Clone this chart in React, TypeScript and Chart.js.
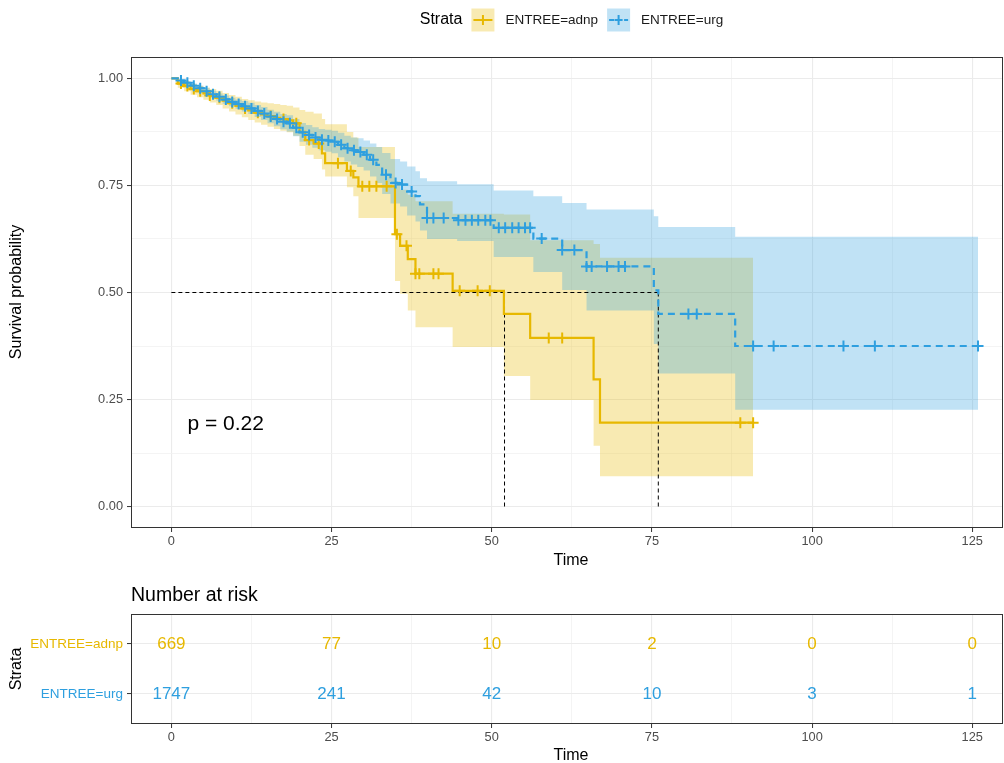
import React, { useEffect, useRef } from 'react';
import { Chart, registerables } from 'chart.js';

Chart.register(...registerables);

const FONT = '"Liberation Sans", Arial, Helvetica, sans-serif';
const YELLOW = '#E7B800';
const BLUE = '#2E9FDF';
const YELLOW_FILL = 'rgba(231,184,0,0.3)';
const BLUE_FILL = 'rgba(46,159,223,0.3)';

const strataNames = ['ENTREE=adnp', 'ENTREE=urg'];

// ---- ENTREE=adnp (yellow) ----
const adnpTime = [0, 1, 2, 3, 4, 5, 6, 7, 8, 9, 10, 11, 12, 13, 14, 15, 16, 17, 18, 19, 20, 20.9, 22.2, 23.5, 24, 27.4, 28.4, 29.2, 34.9, 35.7, 36.9, 38.1, 43.9, 51.9, 56, 65.9, 66.9, 90.8];
const adnpSurv = [1, 0.988, 0.982, 0.975, 0.97, 0.965, 0.96, 0.955, 0.948, 0.942, 0.936, 0.93, 0.925, 0.92, 0.916, 0.912, 0.908, 0.905, 0.902, 0.895, 0.875, 0.856, 0.848, 0.825, 0.802, 0.784, 0.769, 0.748, 0.636, 0.609, 0.578, 0.544, 0.504, 0.45, 0.394, 0.297, 0.196, 0.196];
const adnpLower = [1, 0.978, 0.97, 0.962, 0.956, 0.95, 0.944, 0.938, 0.93, 0.923, 0.916, 0.909, 0.903, 0.897, 0.892, 0.887, 0.882, 0.878, 0.874, 0.866, 0.842, 0.822, 0.812, 0.787, 0.771, 0.746, 0.725, 0.674, 0.527, 0.497, 0.458, 0.419, 0.373, 0.305, 0.249, 0.142, 0.071, 0.071];
const adnpUpper = [1, 0.996, 0.992, 0.987, 0.983, 0.979, 0.975, 0.971, 0.966, 0.961, 0.957, 0.952, 0.949, 0.946, 0.944, 0.942, 0.94, 0.938, 0.936, 0.932, 0.926, 0.922, 0.918, 0.905, 0.893, 0.875, 0.862, 0.84, 0.76, 0.74, 0.728, 0.713, 0.684, 0.682, 0.622, 0.613, 0.581, 0.581];
const adnpCensor = [1.5, 2.5, 3.5, 4.5, 6, 7.5, 9.5, 11.5, 13.5, 15.5, 17.5, 19.5, 21.5, 23, 26, 28, 29.8, 30.9, 32, 33.6, 35.2, 36.7, 38.1, 38.7, 40.9, 41.7, 45, 47.8, 49.7, 58.9, 61, 88.8, 90.8];

// ---- ENTREE=urg (blue) ----
const urgTime = [0, 1, 2, 3, 4, 5, 6, 7, 8, 9, 10, 11, 12, 13, 14, 15, 16, 17, 18, 19, 20, 21, 22, 23, 24, 25, 26, 27, 28, 29, 30, 31, 32, 32.9, 34.2, 35.7, 36.8, 38.1, 38.8, 39.9, 44.6, 50.3, 56.5, 61, 64.8, 75.3, 76, 88, 125.9];
const urgSurv = [1, 0.995, 0.99, 0.983, 0.977, 0.97, 0.963, 0.957, 0.951, 0.945, 0.94, 0.935, 0.93, 0.924, 0.918, 0.911, 0.905, 0.899, 0.895, 0.885, 0.874, 0.868, 0.862, 0.857, 0.855, 0.852, 0.845, 0.837, 0.832, 0.828, 0.822, 0.81, 0.798, 0.775, 0.756, 0.752, 0.736, 0.725, 0.706, 0.674, 0.669, 0.651, 0.626, 0.599, 0.561, 0.505, 0.45, 0.375, 0.375];
const urgLower = [1, 0.991, 0.985, 0.977, 0.971, 0.963, 0.955, 0.948, 0.941, 0.935, 0.929, 0.923, 0.917, 0.91, 0.903, 0.895, 0.888, 0.881, 0.876, 0.865, 0.852, 0.845, 0.838, 0.832, 0.829, 0.825, 0.816, 0.806, 0.799, 0.793, 0.785, 0.771, 0.756, 0.73, 0.708, 0.701, 0.68, 0.666, 0.645, 0.625, 0.62, 0.583, 0.548, 0.506, 0.458, 0.38, 0.311, 0.226, 0.226];
const urgUpper = [1, 0.998, 0.994, 0.988, 0.983, 0.977, 0.971, 0.965, 0.96, 0.955, 0.951, 0.947, 0.943, 0.938, 0.933, 0.927, 0.922, 0.917, 0.914, 0.905, 0.896, 0.891, 0.886, 0.882, 0.88, 0.878, 0.873, 0.866, 0.862, 0.86, 0.855, 0.848, 0.84, 0.826, 0.812, 0.806, 0.794, 0.783, 0.767, 0.76, 0.753, 0.738, 0.725, 0.709, 0.694, 0.678, 0.653, 0.63, 0.63];
const urgCensor = [1.5, 2.5, 3.5, 4.5, 5.5, 6.5, 7.5, 8.5, 9.5, 10.5, 11.5, 12.5, 13.5, 14.5, 15.5, 16.5, 17.5, 18.5, 19.5, 20.5, 21.5, 22.5, 23.5, 24.5, 25.5, 26.5, 27.5, 28.5, 29.5, 30.5, 31.5, 33.5, 35, 36, 37.5, 39.9, 40.9, 42.5, 44.8, 45.9, 46.9, 47.9, 49, 49.8, 51.1, 52.1, 53.2, 54.2, 55.2, 56, 57.8, 61, 62.9, 64.8, 65.6, 68, 69.8, 70.8, 80.7, 82, 90.8, 94, 104.9, 109.8, 125.9];

// ---- median survival ----
const medianLevel = 0.5;
const medianTimes = [52, 76];

const pValueLabel = 'p = 0.22';

// ---- risk table ----
const riskTimes = [0, 25, 50, 75, 100, 125];
const riskAdnp = [669, 77, 10, 2, 0, 0];
const riskUrg = [1747, 241, 42, 10, 3, 1];

// ---- axes ----
const xTickValues = [0, 25, 50, 75, 100, 125];
const yTickValues = [0, 0.25, 0.5, 0.75, 1];
const X_MIN = -6.3;
const X_MAX = 129.8;
const Y_MIN = -0.05;
const Y_MAX = 1.05;

const withMinor = (major: number[]) => {
  const out: number[] = [];
  major.forEach((v, i) => {
    out.push(v);
    if (i < major.length - 1) out.push((v + major[i + 1]) / 2);
  });
  return out;
};

const toPoints = (xs: number[], ys: number[]) => xs.map((x, i) => ({ x, y: ys[i] }));
const stepValue = (xs: number[], ys: number[], t: number) => {
  let v = ys[0];
  for (let i = 0; i < xs.length; i++) if (xs[i] <= t) v = ys[i];
  return v;
};

const gridOpts = (majors: number[]) => ({
  color: (c: any) => (c.tick && majors.includes(c.tick.value) ? '#EBEBEB' : '#F1F1F1'),
  lineWidth: (c: any) => (c.tick && majors.includes(c.tick.value) ? 1.1 : 0.8),
  tickLength: 4,
  tickWidth: 1,
  tickColor: (c: any) => (c.tick && majors.includes(c.tick.value) ? '#333333' : 'rgba(0,0,0,0)'),
  drawTicks: true,
});

const tickFont = { family: FONT, size: 12.8 };

function xScale(height: number) {
  return {
    type: 'linear',
    min: X_MIN,
    max: X_MAX,
    afterBuildTicks: (axis: any) => {
      axis.ticks = withMinor(xTickValues).map((v) => ({ value: v }));
    },
    afterFit: (axis: any) => {
      axis.height = height;
    },
    grid: gridOpts(xTickValues),
    border: { display: false },
    ticks: {
      autoSkip: false,
      maxRotation: 0,
      minRotation: 0,
      padding: 2,
      color: '#4D4D4D',
      font: tickFont,
      callback: (v: any) => (xTickValues.includes(v) ? String(v) : ''),
    },
  };
}

const panelBorder = (chart: any) => {
  const { ctx, chartArea: a } = chart;
  ctx.save();
  ctx.strokeStyle = '#333333';
  ctx.lineWidth = 1;
  ctx.strokeRect(a.left + 0.5, a.top + 0.5, a.right - a.left - 1, a.bottom - a.top - 1);
  ctx.restore();
};

const drawRotated = (ctx: CanvasRenderingContext2D, text: string, x: number, y: number, size: number) => {
  ctx.save();
  ctx.translate(x, y);
  ctx.rotate(-Math.PI / 2);
  ctx.font = `${size}px ${FONT}`;
  ctx.fillStyle = '#000000';
  ctx.textAlign = 'center';
  ctx.textBaseline = 'middle';
  ctx.fillText(text, 0, 0);
  ctx.restore();
};

const drawLegend = (ctx: CanvasRenderingContext2D) => {
  ctx.save();
  ctx.font = `16px ${FONT}`;
  const wTitle = ctx.measureText('Strata').width;
  ctx.font = `13.5px ${FONT}`;
  const w1 = ctx.measureText(strataNames[0]).width;
  const w2 = ctx.measureText(strataNames[1]).width;
  const key = 23;
  const gT = 9;
  const gL = 11;
  const gI = 9;
  const total = wTitle + gT + key + gL + w1 + gI + key + gL + w2;
  let x = 571.5 - total / 2;
  const cy = 20;
  ctx.textBaseline = 'middle';
  ctx.textAlign = 'left';
  ctx.fillStyle = '#000000';
  ctx.font = `16px ${FONT}`;
  ctx.fillText('Strata', x, cy);
  x += wTitle + gT;
  const items = [
    { fill: YELLOW_FILL, color: YELLOW, dashed: false, label: strataNames[0], w: w1 },
    { fill: BLUE_FILL, color: BLUE, dashed: true, label: strataNames[1], w: w2 },
  ];
  items.forEach((it) => {
    ctx.fillStyle = it.fill;
    ctx.fillRect(x, cy - key / 2, key, key);
    ctx.strokeStyle = it.color;
    ctx.lineWidth = 2;
    const cx = x + key / 2;
    ctx.beginPath();
    if (!it.dashed) {
      ctx.moveTo(x + 2, cy);
      ctx.lineTo(x + key - 2, cy);
    } else {
      ctx.moveTo(x + 2, cy);
      ctx.lineTo(x + 7, cy);
      ctx.moveTo(cx - 4, cy);
      ctx.lineTo(cx + 4, cy);
      ctx.moveTo(x + key - 6, cy);
      ctx.lineTo(x + key - 2, cy);
    }
    ctx.moveTo(cx, cy - 5);
    ctx.lineTo(cx, cy + 5);
    ctx.stroke();
    x += key + gL;
    ctx.fillStyle = '#1A1A1A';
    ctx.font = `13.5px ${FONT}`;
    ctx.fillText(it.label, x, cy);
    x += it.w + gI;
  });
  ctx.restore();
};

const mainDecor = {
  id: 'mainDecor',
  afterDraw(chart: any) {
    const { ctx, scales } = chart;
    panelBorder(chart);
    drawRotated(ctx, 'Survival probability', 17, 292, 16);
    ctx.save();
    ctx.fillStyle = '#000000';
    ctx.font = `16px ${FONT}`;
    ctx.textAlign = 'center';
    ctx.textBaseline = 'middle';
    ctx.fillText('Time', 571, 561);
    ctx.font = `21px ${FONT}`;
    ctx.textAlign = 'left';
    ctx.fillText(pValueLabel, scales.x.getPixelForValue(2.5), scales.y.getPixelForValue(0.193));
    ctx.restore();
    drawLegend(ctx);
  },
};

const riskDecor = {
  id: 'riskDecor',
  afterDatasetsDraw(chart: any) {
    const { ctx } = chart;
    ctx.save();
    ctx.font = `17px ${FONT}`;
    ctx.textAlign = 'center';
    ctx.textBaseline = 'middle';
    chart.data.datasets.forEach((ds: any, di: number) => {
      const meta = chart.getDatasetMeta(di);
      ctx.fillStyle = ds.textColor;
      meta.data.forEach((el: any, i: number) => {
        ctx.fillText(String(ds.counts[i]), el.x, el.y);
      });
    });
    ctx.restore();
  },
  afterDraw(chart: any) {
    const { ctx } = chart;
    panelBorder(chart);
    drawRotated(ctx, 'Strata', 17, 89, 16);
    ctx.save();
    ctx.fillStyle = '#000000';
    ctx.font = `16px ${FONT}`;
    ctx.textAlign = 'center';
    ctx.textBaseline = 'middle';
    ctx.fillText('Time', 571, 176);
    ctx.font = `19.5px ${FONT}`;
    ctx.textAlign = 'left';
    ctx.fillText('Number at risk', 131, 16);
    ctx.restore();
  },
};

function band(xs: number[], ys: number[], color: string, fill: any, order: number) {
  return {
    type: 'line',
    data: toPoints(xs, ys),
    borderWidth: 0,
    borderColor: 'rgba(0,0,0,0)',
    backgroundColor: color,
    pointRadius: 0,
    stepped: true,
    fill,
    order,
  };
}

function mainConfig(): any {
  const medMax = Math.max(...medianTimes);
  const datasets: any[] = [
    band(adnpTime, adnpUpper, YELLOW_FILL, false, 21),
    band(adnpTime, adnpLower, YELLOW_FILL, '-1', 21),
    band(urgTime, urgUpper, BLUE_FILL, false, 20),
    band(urgTime, urgLower, BLUE_FILL, '-1', 20),
    {
      type: 'line',
      data: [
        { x: 0, y: medianLevel },
        { x: medMax, y: medianLevel },
      ],
      borderColor: '#000000',
      borderWidth: 1,
      borderDash: [4, 3],
      pointRadius: 0,
      fill: false,
      order: 8,
    },
    ...medianTimes.map((m) => ({
      type: 'line',
      data: [
        { x: m, y: medianLevel },
        { x: m, y: 0 },
      ],
      borderColor: '#000000',
      borderWidth: 1,
      borderDash: [4, 3],
      pointRadius: 0,
      fill: false,
      order: 8,
    })),
    {
      type: 'line',
      data: toPoints(adnpTime, adnpSurv),
      borderColor: YELLOW,
      borderWidth: 2.2,
      stepped: true,
      pointRadius: 0,
      fill: false,
      order: 5,
    },
    {
      type: 'line',
      data: toPoints(urgTime, urgSurv),
      borderColor: BLUE,
      borderWidth: 2.2,
      borderDash: [7, 5],
      stepped: true,
      pointRadius: 0,
      fill: false,
      order: 4,
    },
    {
      type: 'scatter',
      data: adnpCensor.map((t) => ({ x: t, y: stepValue(adnpTime, adnpSurv, t) })),
      pointStyle: 'cross',
      pointRadius: 5.5,
      pointBorderWidth: 2,
      borderColor: YELLOW,
      backgroundColor: YELLOW,
      order: 2,
    },
    {
      type: 'scatter',
      data: urgCensor.map((t) => ({ x: t, y: stepValue(urgTime, urgSurv, t) })),
      pointStyle: 'cross',
      pointRadius: 5.5,
      pointBorderWidth: 2,
      borderColor: BLUE,
      backgroundColor: BLUE,
      order: 1,
    },
  ];
  return {
    type: 'line',
    data: { datasets },
    options: {
      animation: false,
      responsive: false,
      events: [],
      layout: { autoPadding: false, padding: { top: 57, right: 1, left: 0, bottom: 0 } },
      plugins: { legend: { display: false }, tooltip: { enabled: false } },
      scales: {
        x: xScale(52),
        y: {
          type: 'linear',
          min: Y_MIN,
          max: Y_MAX,
          afterBuildTicks: (axis: any) => {
            axis.ticks = withMinor(yTickValues).map((v) => ({ value: v }));
          },
          afterFit: (axis: any) => {
            axis.width = 131;
          },
          grid: gridOpts(yTickValues),
          border: { display: false },
          ticks: {
            autoSkip: false,
            padding: 4,
            color: '#4D4D4D',
            font: tickFont,
            callback: (v: any) => (yTickValues.includes(v) ? Number(v).toFixed(2) : ''),
          },
        },
      },
    },
    plugins: [mainDecor],
  };
}

const riskRows = [2, 1];

function riskConfig(): any {
  return {
    type: 'scatter',
    data: {
      datasets: [
        {
          data: riskTimes.map((t) => ({ x: t, y: riskRows[0] })),
          counts: riskAdnp,
          textColor: YELLOW,
          pointRadius: 0,
        },
        {
          data: riskTimes.map((t) => ({ x: t, y: riskRows[1] })),
          counts: riskUrg,
          textColor: BLUE,
          pointRadius: 0,
        },
      ],
    },
    options: {
      animation: false,
      responsive: false,
      events: [],
      layout: { autoPadding: false, padding: { top: 34, right: 1, left: 0, bottom: 0 } },
      plugins: { legend: { display: false }, tooltip: { enabled: false } },
      scales: {
        x: xScale(39),
        y: {
          type: 'linear',
          min: 0.4,
          max: 2.6,
          afterBuildTicks: (axis: any) => {
            axis.ticks = riskRows.map((v) => ({ value: v }));
          },
          afterFit: (axis: any) => {
            axis.width = 131;
          },
          grid: gridOpts(riskRows),
          border: { display: false },
          ticks: {
            autoSkip: false,
            padding: 4,
            font: { family: FONT, size: 13.5 },
            color: (c: any) => (c.tick && c.tick.value === riskRows[0] ? YELLOW : BLUE),
            callback: (v: any) => (v === riskRows[0] ? strataNames[0] : strataNames[1]),
          },
        },
      },
    },
    plugins: [riskDecor],
  };
}

export default function App() {
  const mainRef = useRef<HTMLCanvasElement>(null);
  const riskRef = useRef<HTMLCanvasElement>(null);
  useEffect(() => {
    const c1 = new Chart(mainRef.current as HTMLCanvasElement, mainConfig());
    const c2 = new Chart(riskRef.current as HTMLCanvasElement, riskConfig());
    return () => {
      c1.destroy();
      c2.destroy();
    };
  }, []);
  return (
    <div style={{ position: 'fixed', left: 0, top: 0, width: 1004, height: 763, background: '#ffffff' }}>
      <canvas
        ref={mainRef}
        width={1004}
        height={580}
        style={{ position: 'absolute', left: 0, top: 0, width: 1004, height: 580 }}
      />
      <canvas
        ref={riskRef}
        width={1004}
        height={183}
        style={{ position: 'absolute', left: 0, top: 580, width: 1004, height: 183 }}
      />
    </div>
  );
}
